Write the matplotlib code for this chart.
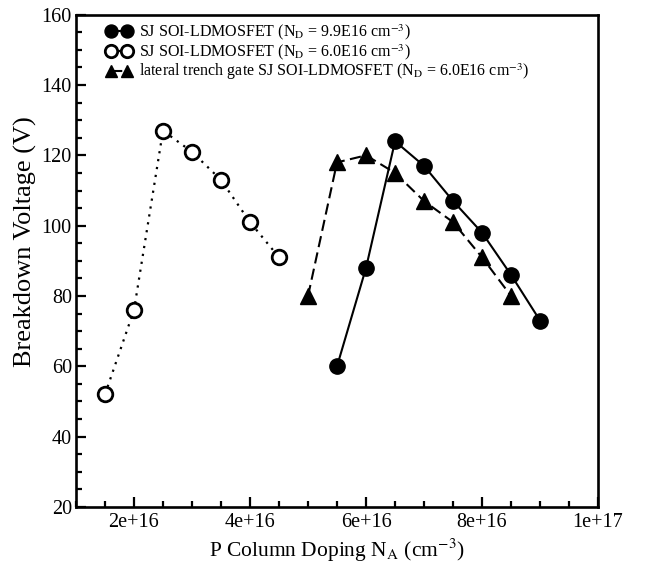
import matplotlib
matplotlib.use("Agg")
import matplotlib.pyplot as plt
from matplotlib.ticker import MultipleLocator

plt.rcParams['font.family'] = 'Liberation Serif'
plt.rcParams['mathtext.fontset'] = 'stix'

# datos
x_99 = [5.5e16, 6.0e16, 6.5e16, 7.0e16, 7.5e16, 8.0e16, 8.5e16, 9.0e16]
bv_99 = [60, 88, 124, 117, 107, 98, 86, 73]

x_60 = [1.5e16, 2.0e16, 2.5e16, 3.0e16, 3.5e16, 4.0e16, 4.5e16]
bv_60 = [52, 76, 127, 121, 113, 101, 91]

x_trench = [5.0e16, 5.5e16, 6.0e16, 6.5e16, 7.0e16, 7.5e16, 8.0e16, 8.5e16]
bv_trench = [80, 118, 120, 115, 107, 101, 91, 80]

labels = [
    r'SJ SOI-LDMOSFET (N$_{\mathrm{D}}$ = 9.9E16 cm$^{-3}$)',
    r'SJ SOI-LDMOSFET (N$_{\mathrm{D}}$ = 6.0E16 cm$^{-3}$)',
    r'lateral trench gate SJ SOI-LDMOSFET (N$_{\mathrm{D}}$ = 6.0E16 cm$^{-3}$)',
]

fig = plt.figure(figsize=(6.51, 5.65), dpi=100)
ax = fig.add_axes([0.1167, 0.1027, 0.802, 0.8713])

ax.plot(x_99, bv_99, color='black', linestyle='-', linewidth=1.5,
        marker='o', markersize=11, markerfacecolor='black', label=labels[0])
ax.plot(x_60, bv_60, color='black', linestyle=(0, (1, 2.6)), linewidth=1.6,
        marker='o', markersize=10.5, markerfacecolor='white',
        markeredgewidth=2.0, label=labels[1])
ax.plot(x_trench, bv_trench, color='black', linestyle=(0, (5.4, 2.6)), linewidth=1.5,
        marker='^', markersize=11, markerfacecolor='black', label=labels[2])

ax.set_xlim(1e16, 1e17)
ax.set_ylim(20, 160)
ax.set_xticks([2e16, 4e16, 6e16, 8e16, 1e17])
ax.set_xticklabels(['2e+16', '4e+16', '6e+16', '8e+16', '1e+17'])
ax.xaxis.set_minor_locator(MultipleLocator(0.5e16))
ax.yaxis.set_major_locator(MultipleLocator(20))
ax.yaxis.set_minor_locator(MultipleLocator(5))

ax.tick_params(which='both', direction='in', top=False, right=False,
               labelsize=14.5, width=1.6)
ax.tick_params(which='major', length=7)
ax.tick_params(which='minor', length=4)
ax.tick_params(axis='x', pad=4)
ax.tick_params(axis='y', pad=3)
for s in ax.spines.values():
    s.set_linewidth(1.9)

ax.set_xlabel(r'P Column Doping N$_{\mathrm{A}}$ (cm$^{-3}$)', fontsize=15.5, labelpad=4)
ax.set_ylabel('Breakdown Voltage (V)', fontsize=19)
ax.yaxis.set_label_coords(-0.075, 0.54)

ax.legend(loc='upper left', bbox_to_anchor=(0.0466, 0.998), borderaxespad=0,
          frameon=False, fontsize=11.5, numpoints=2,
          handlelength=1.56, handletextpad=0.45, labelspacing=0.0,
          markerscale=0.85, borderpad=0.4)

fig.savefig('out.png', dpi=100)
